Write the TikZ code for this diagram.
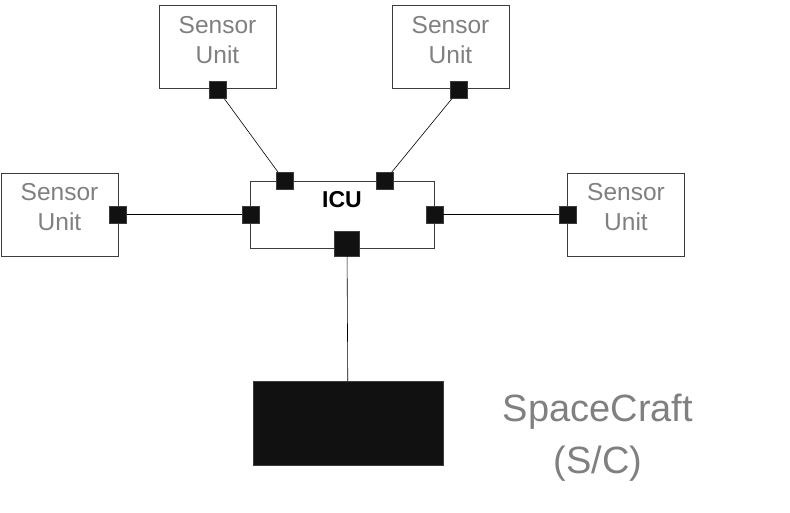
\documentclass[tikz,border=0pt]{standalone}
\usepackage{fontspec}
\setmainfont{Liberation Sans}
\usepackage{tikz}
\usetikzlibrary{positioning,calc}
\usepackage{xcolor}
\definecolor{edgegray}{RGB}{60,60,60}
\definecolor{txtgray} {RGB}{128,128,128}
\definecolor{portblk} {RGB}{17,17,17}

\begin{document}
\begin{tikzpicture}[x=1pt,y=-1pt,
    sensor/.style={draw=edgegray,line width=0.9pt,fill=white,minimum width=117pt,minimum height=83pt,inner sep=0pt},
    stext/.style={align=center,text=txtgray,font=\fontsize{24.5}{30}\selectfont,inner sep=0pt},
    port/.style={draw=edgegray,line width=0.4pt,fill=portblk,minimum size=17pt,inner sep=0pt},
    bigport/.style={port,minimum size=25pt},
    wire/.style={line width=0.6pt,black}]
  \useasboundingbox (0,0) rectangle (790,512);
  % boxes
  \node[sensor] (s1) at (217.5,47) {};
  \node[sensor] (s2) at (450.5,47) {};
  \node[sensor] (s3) at (59.5,214.5) {};
  \node[sensor] (s4) at (626,214.5) {};
  \node[sensor,minimum width=184pt,minimum height=67pt] (icu) at (342,214.5) {};
  \node[fill=portblk,draw=edgegray,minimum width=190pt,minimum height=84pt,inner sep=0pt] (sc) at (348,423) {};
  % texts
  \node[stext] (s1t) at ([yshift=7pt]s1.center) {Sensor\\Unit};
  \node[stext] (s2t) at ([yshift=7pt]s2.center) {Sensor\\Unit};
  \node[stext] (s3t) at ([yshift=7pt]s3.center) {Sensor\\Unit};
  \node[stext] (s4t) at ([yshift=7pt]s4.center) {Sensor\\Unit};
  \node[font=\fontsize{23}{27}\selectfont\bfseries,inner sep=0pt] (icut) at (342,200) {ICU};
  \node[align=center,text=txtgray,font=\fontsize{38}{52}\selectfont,inner sep=0pt]
    (sct) at (598,438) {SpaceCraft\\(S/C)};
  % ports
  \node[port] (p1) at (218,90) {};
  \node[port] (p2) at (459,90) {};
  \node[port] (p3) at (118,214.5) {};
  \node[port] (p4) at (568,214.5) {};
  \node[port] (i1) at (284.5,181) {};
  \node[port] (i2) at (384.5,181) {};
  \node[port] (i3) at (250.5,214.5) {};
  \node[port] (i4) at (434.5,214.5) {};
  \node[bigport] (i5) at (347,243.5) {};
  % links
  \draw[wire] (p1) -- (i1);
  \draw[wire] (p2) -- (i2);
  \draw[wire] (p3) -- (i3);
  \draw[wire] (i4) -- (p4);
  \draw[wire] (i5) -- (sc);
\end{tikzpicture}
\end{document}
